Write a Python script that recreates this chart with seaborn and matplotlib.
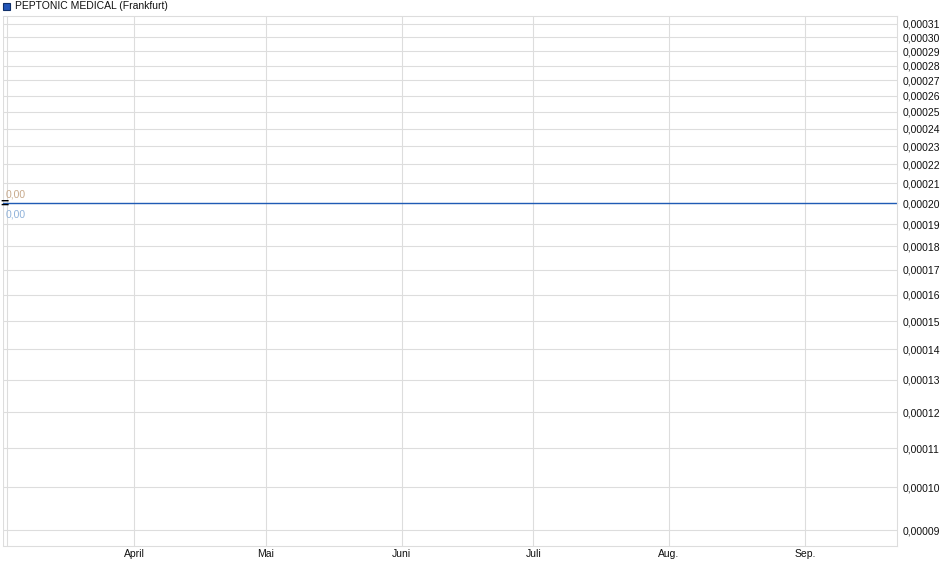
import pandas as pd
import numpy as np
import matplotlib
matplotlib.use("Agg")
import matplotlib.pyplot as plt
import matplotlib.dates as mdates
import matplotlib.transforms as mtransforms
from matplotlib.ticker import FixedLocator, FuncFormatter, NullLocator
import seaborn as sns

# data
dates = ["2025-03-02", "2025-09-22"]
prices = [0.00020, 0.00020]
y_ticks = [0.00009, 0.00010, 0.00011, 0.00012, 0.00013, 0.00014, 0.00015, 0.00016,
           0.00017, 0.00018, 0.00019, 0.00020, 0.00021, 0.00022, 0.00023, 0.00024,
           0.00025, 0.00026, 0.00027, 0.00028, 0.00029, 0.00030, 0.00031]
month_ticks = ["2025-04-01", "2025-05-01", "2025-06-01", "2025-07-01", "2025-08-01", "2025-09-01"]
month_labels = ["April", "Mai", "Juni", "Juli", "Aug.", "Sep."]
title = "PEPTONIC MEDICAL (Frankfurt)"
high_label = "0,00"
low_label = "0,00"

df = pd.DataFrame({"date": pd.to_datetime(dates), "price": prices})

sns.set_style("white")
plt.rcParams["font.family"] = ["Liberation Sans", "DejaVu Sans"]

fig = plt.figure(figsize=(9.4, 5.79), dpi=100)
ax = fig.add_axes([0.0032, 0.057, 0.9510, 0.9155])

sns.lineplot(data=df, x="date", y="price", color="#1f5bb5", linewidth=1.0, ax=ax, clip_on=False)

ax.set_yscale("log")
ax.set_ylim(0.0000866, 0.0003161)
ax.set_xlim(pd.Timestamp(dates[0]), pd.Timestamp(dates[-1]))

ax.yaxis.set_major_locator(FixedLocator(y_ticks))
ax.yaxis.set_minor_locator(NullLocator())
ax.yaxis.set_major_formatter(FuncFormatter(lambda v, p: f"{v:.5f}".replace(".", ",")))
ax.yaxis.tick_right()

ax.set_xticks(mdates.date2num(pd.to_datetime(month_ticks)))
ax.set_xticklabels(month_labels)
ax.xaxis.set_minor_locator(FixedLocator(mdates.date2num(pd.to_datetime(["2025-03-02", "2025-03-03"]))))

ax.grid(True, which="major", color="#dddddd", linewidth=0.8)
ax.grid(True, which="minor", axis="x", color="#dddddd", linewidth=0.8)
ax.tick_params(axis="both", which="both", length=0, labelsize=7.5, colors="#111111")
ax.tick_params(axis="y", pad=4)
ax.tick_params(axis="x", pad=2)
ax.set_xlabel("")
ax.set_ylabel("")

for s in ["top", "right", "bottom", "left"]:
    ax.spines[s].set_color("#dddddd")
    ax.spines[s].set_linewidth(0.8)
ax.spines["left"].set_visible(False)

# small labels and marker at the left end of the line
tr = mtransforms.blended_transform_factory(ax.transAxes, ax.transData)
ax.text(0.003, 0.0002044, high_label, transform=tr, fontsize=7.5, color="#c8aa8c", va="center", ha="left")
ax.text(0.003, 0.0001947, low_label, transform=tr, fontsize=7.5, color="#8fb2da", va="center", ha="left")
ax.text(0.0012, 0.0002, "=", transform=tr, fontsize=10, color="black", va="center", ha="center",
        fontweight="bold", clip_on=False)

# legend style title
fig.patches.append(plt.Rectangle((3 / 940, 1 - 10 / 579), 7 / 940, 7 / 579, transform=fig.transFigure,
                                 facecolor="#2356b8", edgecolor="#10306a", linewidth=0.8))
fig.text(15 / 940, 1 - 6 / 579, title, fontsize=7.5, color="#111111", va="center", ha="left")

fig.savefig("out.png", dpi=100)
